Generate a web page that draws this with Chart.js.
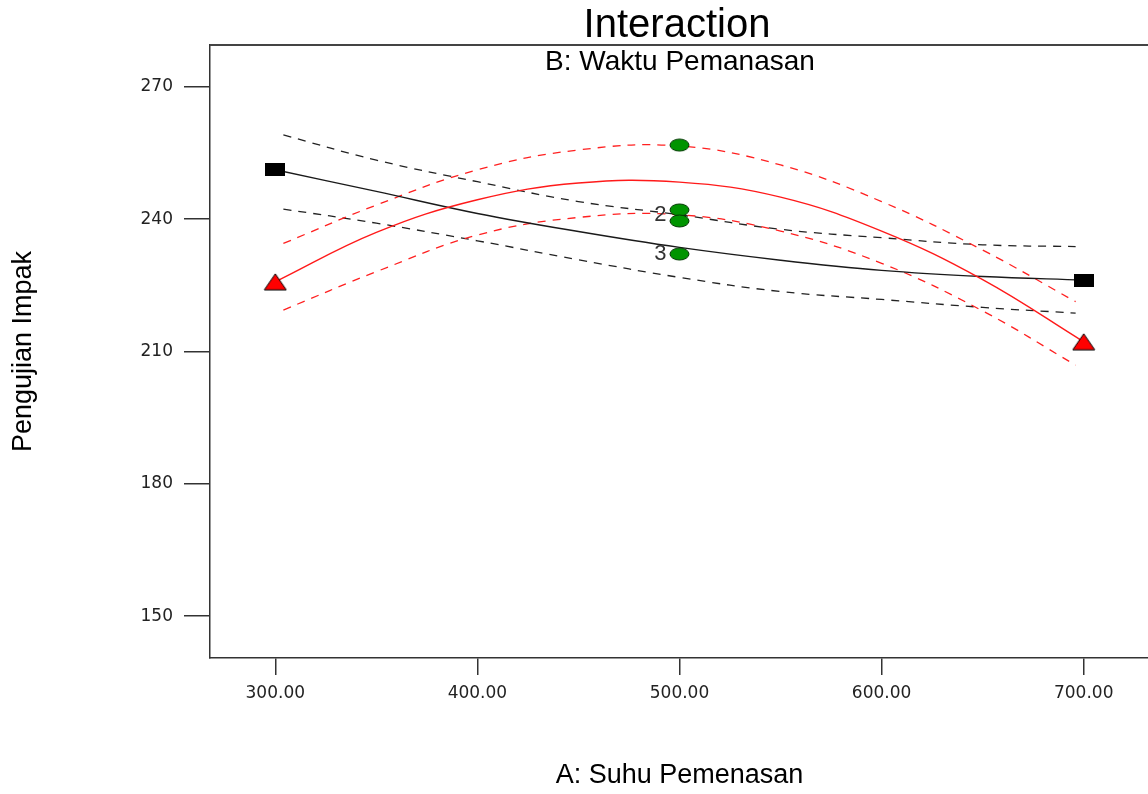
<!DOCTYPE html>
<html>
<head>
<meta charset="utf-8">
<script src="https://cdn.jsdelivr.net/npm/chart.js@4.4.1/dist/chart.umd.min.js"></script>
<style>
  html, body { margin: 0; padding: 0; background: #fff; overflow: hidden; }
  #wrap { width: 1160px; height: 794px; }
</style>
</head>
<body>
<div id="wrap"><canvas id="grafico" width="1160" height="794"></canvas></div>
<script>
// --- data ---
const xTicks = [300, 400, 500, 600, 700];
const yTicks = [150, 180, 210, 240, 270];

const curveX = [300, 350, 400, 450, 500, 550, 600, 650, 700];
const bandX = [304, 350, 400, 450, 500, 550, 600, 650, 696];

// B- (black)
const bajoLinea = [251.2, 246.3, 241.3, 237.2, 233.6, 230.7, 228.4, 227.0, 226.2];
const bajoSup = [259.1, 253.4, 248.5, 244.0, 241.0, 237.7, 235.8, 234.2, 233.8];
const bajoInf = [242.3, 239.1, 235.1, 230.8, 226.8, 223.6, 221.8, 220.0, 218.7];

// B+ (red)
const altoLinea = [225.8, 237.0, 244.4, 248.2, 248.4, 245.0, 237.3, 226.3, 212.2];
const altoSup = [234.5, 243.2, 251.2, 255.7, 256.6, 252.3, 244.0, 233.0, 221.3];
const altoInf = [219.4, 228.1, 236.4, 240.4, 241.0, 237.3, 230.0, 219.2, 206.9];

// design points
const puntosX = [300, 700];
const bajoPuntos = [251.2, 226.2];
const altoPuntos = [225.8, 212.2];
const centroX = 500;
const centroPuntos = [256.8, 242.1, 239.6, 232.1];
const conteoTexto = ['2', '3'];
const conteoValor = [240.9, 232.1];

// --- marker images ---
function marcador(w, h, dibujar) {
    const c = document.createElement('canvas');
    c.width = w; c.height = h;
    dibujar(c.getContext('2d'), w, h);
    return c;
}
const cuadro = marcador(20, 13, (g, w, h) => {
    g.fillStyle = '#000';
    g.fillRect(0, 0, w, h);
});
const triangulo = marcador(24, 18, (g, w, h) => {
    g.beginPath();
    g.moveTo(w / 2, 1);
    g.lineTo(w - 1, h - 1);
    g.lineTo(1, h - 1);
    g.closePath();
    g.fillStyle = '#ff0000';
    g.fill();
    g.strokeStyle = '#000';
    g.lineWidth = 1;
    g.stroke();
});
const elipse = marcador(21, 14, (g, w, h) => {
    g.beginPath();
    g.ellipse(w / 2, h / 2, w / 2 - 1, h / 2 - 1, 0, 0, Math.PI * 2);
    g.fillStyle = '#009400';
    g.fill();
    g.strokeStyle = '#033803';
    g.lineWidth = 1;
    g.stroke();
});

const pares = (xs, ys) => xs.map((x, i) => ({ x: x, y: ys[i] }));

function curva(label, xs, ys, color, dash) {
    return {
        label: label,
        data: pares(xs, ys),
        showLine: true,
        borderColor: color,
        borderWidth: dash ? 1.3 : 1.4,
        borderDash: dash ? [8, 7] : [],
        pointRadius: 0,
        fill: false,
        tension: 0.4
    };
}
function puntos(label, xs, ys, img) {
    return {
        label: label,
        data: pares(xs, ys),
        showLine: false,
        pointStyle: img,
        pointRadius: 10
    };
}

const fuenteTicks = { family: 'DejaVu Sans', size: 17 };

const marcoYTextos = {
    id: 'marcoYTextos',
    afterDraw(chart) {
        const { ctx, chartArea: a, scales } = chart;
        ctx.save();
        ctx.strokeStyle = '#444';
        ctx.lineWidth = 2;
        ctx.beginPath();
        ctx.moveTo(a.left, a.top);
        ctx.lineTo(a.right, a.top);
        ctx.lineTo(a.right, a.bottom);
        ctx.stroke();

        ctx.fillStyle = '#000';
        ctx.textAlign = 'center';
        ctx.textBaseline = 'alphabetic';
        ctx.font = '40px "Liberation Sans", Arial, sans-serif';
        ctx.fillText('Interaction', 677, 37);
        ctx.font = '28px "Liberation Sans", Arial, sans-serif';
        ctx.fillText('B: Waktu Pemanasan', 680, 70);

        ctx.fillStyle = '#333';
        ctx.textAlign = 'right';
        ctx.textBaseline = 'middle';
        ctx.font = '22px "Liberation Sans", Arial, sans-serif';
        const px = scales.x.getPixelForValue(centroX) - 13;
        conteoTexto.forEach((t, i) => {
            ctx.fillText(t, px, scales.y.getPixelForValue(conteoValor[i]));
        });
        ctx.restore();
    }
};

new Chart(document.getElementById('grafico'), {
    type: 'scatter',
    data: {
        datasets: [
            puntos('centro', centroPuntos.map(() => centroX), centroPuntos, elipse),
            puntos('B+', puntosX, altoPuntos, triangulo),
            puntos('B-', puntosX, bajoPuntos, cuadro),
            curva('B+ linea', curveX, altoLinea, '#ff1a1a', false),
            curva('B- linea', curveX, bajoLinea, '#1a1a1a', false),
            curva('B+ sup', bandX, altoSup, '#ff2020', true),
            curva('B+ inf', bandX, altoInf, '#ff2020', true),
            curva('B- sup', bandX, bajoSup, '#222', true),
            curva('B- inf', bandX, bajoInf, '#222', true)
        ]
    },
    options: {
        responsive: false,
        animation: false,
        devicePixelRatio: 1,
        layout: { padding: { top: 45, right: 10, left: 0, bottom: 0 } },
        plugins: {
            legend: { display: false },
            tooltip: { enabled: false },
            title: { display: false }
        },
        scales: {
            x: {
                type: 'linear',
                min: 267.7,
                max: 732.3,
                afterBuildTicks: s => { s.ticks = xTicks.map(v => ({ value: v })); },
                afterFit: s => { s.height = 136; },
                grid: { drawOnChartArea: false, tickLength: 17, color: '#333', lineWidth: 1.5 },
                border: { display: true, color: '#333', width: 1.5 },
                ticks: {
                    font: fuenteTicks, color: '#222', padding: 8, maxRotation: 0,
                    callback: v => Number(v).toFixed(2)
                },
                title: {
                    display: true, text: 'A: Suhu Pemenasan', color: '#000',
                    font: { family: 'Liberation Sans', size: 27 },
                    padding: { top: 0, bottom: 2 }
                }
            },
            y: {
                type: 'linear',
                min: 140.5,
                max: 279.5,
                afterBuildTicks: s => { s.ticks = yTicks.map(v => ({ value: v })); },
                afterFit: s => { s.width = 210; },
                grid: { drawOnChartArea: false, tickLength: 26, color: '#333', lineWidth: 1.5 },
                border: { display: true, color: '#333', width: 1.5 },
                ticks: { font: fuenteTicks, color: '#222', padding: 11 },
                title: {
                    display: true, text: 'Pengujian Impak', color: '#000',
                    font: { family: 'Liberation Sans', size: 27 },
                    padding: { top: 7, bottom: 0 }
                }
            }
        }
    },
    plugins: [marcoYTextos]
});
</script>
</body>
</html>
